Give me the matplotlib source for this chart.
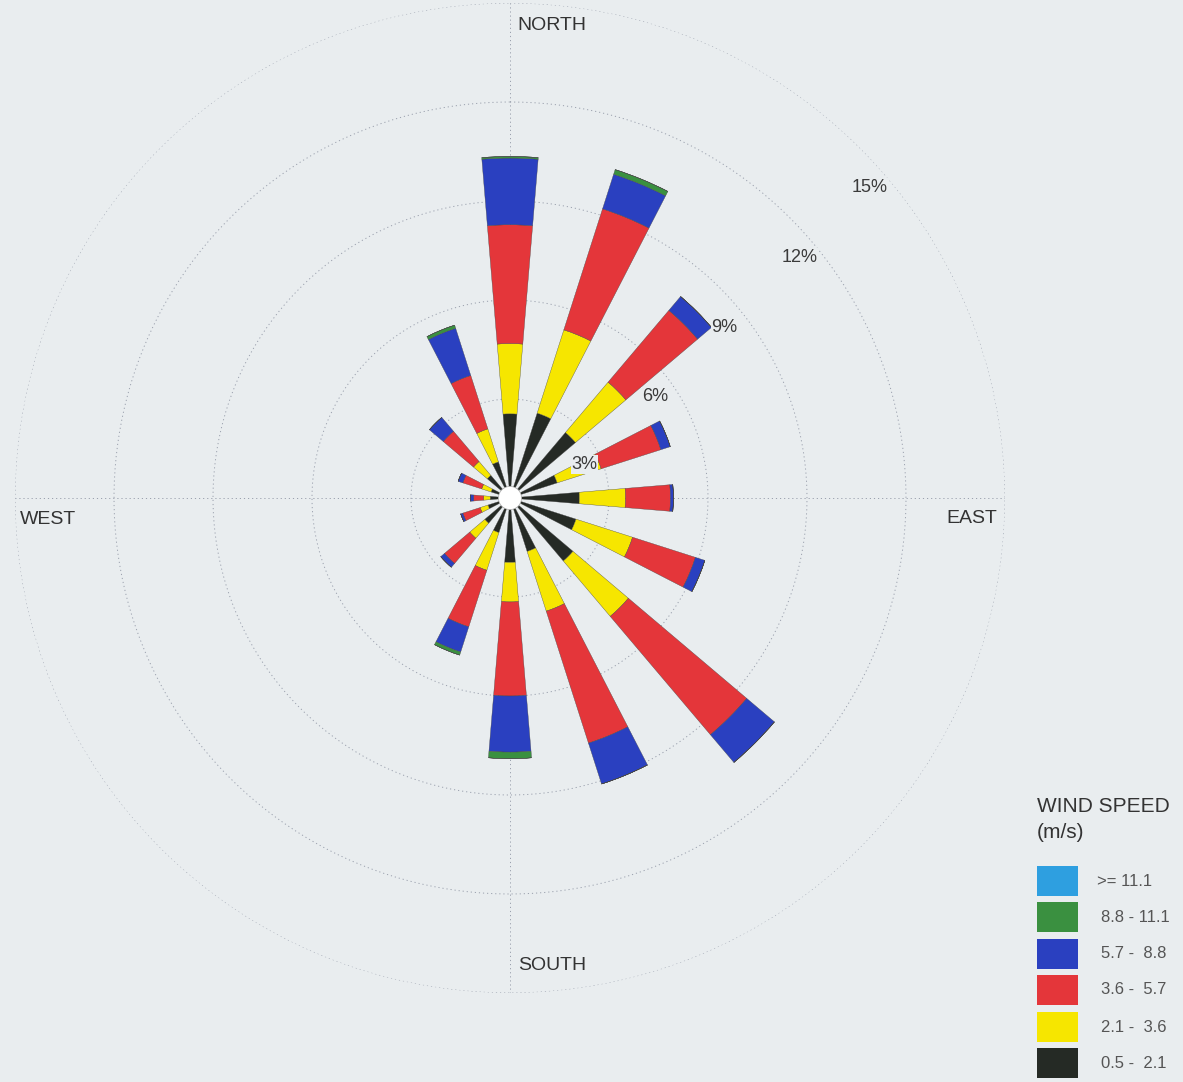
import numpy as np
import matplotlib.pyplot as plt
from matplotlib.patches import Rectangle, Circle

plt.rcParams['font.family'] = ['Liberation Sans', 'DejaVu Sans']

# wind directions (degrees from north, clockwise)
directions = ['N', 'NNE', 'NE', 'ENE', 'E', 'ESE', 'SE', 'SSE',
              'S', 'SSW', 'SW', 'WSW', 'W', 'WNW', 'NW', 'NNW']
dir_deg = [0, 22.5, 45, 67.5, 90, 112.5, 135, 157.5,
           180, 202.5, 225, 247.5, 270, 292.5, 315, 337.5]

# frequency (%) per speed class, per direction
spd_05_21 = [2.20, 2.35, 2.25, 1.15, 1.75, 1.75, 2.15, 1.35, 1.60, 0.75, 0.65, 0.35, 0.25, 0.25, 0.55, 0.80]
spd_21_36 = [2.13, 2.65, 2.00, 1.40, 1.40, 1.80, 2.20, 1.90, 1.20, 1.20, 0.60, 0.25, 0.20, 0.30, 0.55, 1.05]
spd_36_57 = [3.60, 3.85, 2.85, 1.90, 1.36, 2.00, 4.70, 4.20, 2.85, 1.80, 1.00, 0.55, 0.30, 0.60, 1.20, 1.70]
spd_57_88 = [2.02, 1.10, 0.55, 0.30, 0.09, 0.30, 1.10, 1.30, 1.70, 0.80, 0.15, 0.07, 0.10, 0.15, 0.55, 1.50]
spd_88_111 = [0.05, 0.15, 0.00, 0.00, 0.00, 0.00, 0.00, 0.00, 0.20, 0.10, 0.00, 0.00, 0.00, 0.00, 0.00, 0.10]
spd_111 = [0.0] * 16

calm_radius = 0.35

classes = [spd_05_21, spd_21_36, spd_36_57, spd_57_88, spd_88_111, spd_111]
class_labels = ['0.5 -  2.1', '2.1 -  3.6', '3.6 -  5.7', '5.7 -  8.8', '8.8 - 11.1', '>= 11.1']
colors = ['#252a25', '#f6e600', '#e4363a', '#2a40c0', '#3a9040', '#2e9fe0']

ring_vals = [3, 6, 9, 12, 15]
ring_labels = ['3%', '6%', '9%', '12%', '15%']

bg = '#e9edef'
W, H = 1183, 1082
fig = plt.figure(figsize=(W / 100, H / 100), dpi=100, facecolor=bg)

# polar axes: centre (510, 498) px, radius 495 px
cx, cy, R = 510, 498, 495
ax = fig.add_axes([(cx - R) / W, (H - cy - R) / H, 2 * R / W, 2 * R / H], projection='polar')
ax.set_facecolor(bg)
ax.set_theta_zero_location('N')
ax.set_theta_direction(-1)
ax.set_ylim(0, 15)

theta = np.deg2rad(dir_deg)
width = np.deg2rad(9.5)
bottom = np.full(16, calm_radius)
for vals, col in zip(classes, colors):
    ax.bar(theta, vals, width=width, bottom=bottom, color=col,
           edgecolor='#444444', linewidth=0.25, zorder=3)
    bottom = bottom + np.array(vals)

# calm circle
ax.add_artist(Circle((0, 0), calm_radius, transform=ax.transData._b,
                     facecolor='white', edgecolor='#aaaaaa', linewidth=0.5, zorder=4))

# grid: dotted rings and the 4 main axes
ax.grid(False)
ax.set_xticks([])
ax.set_yticks([])
tt = np.linspace(0, 2 * np.pi, 400)
for r in ring_vals:
    ax.plot(tt, np.full_like(tt, r), ls=(0, (1.2, 3)), color='#9aa0ad', lw=0.7, zorder=1)
for a in [0, 90, 180, 270]:
    ax.plot([np.deg2rad(a)] * 2, [0, 15], ls=(0, (1.2, 3)), color='#9aa0ad', lw=0.7, zorder=1)
ax.spines['polar'].set_visible(False)

# ring labels
lab_pos = [(66, 2.48), (55, 5.36), (51.5, 8.3), (50.3, 11.4), (49.2, 14.4)]
for (ang, rr), txt in zip(lab_pos, ring_labels):
    ax.text(np.deg2rad(ang), rr, txt, fontsize=13, color='#3a3a3a', ha='center', va='center',
            zorder=5, bbox=dict(facecolor=bg, edgecolor='none', pad=0.5))


def fx(px):
    return px / W


def fy(py):
    return 1 - py / H


# compass labels
fig.text(fx(517), fy(25), 'NORTH', fontsize=14, color='#333333', ha='left', va='center')
fig.text(fx(518), fy(966), 'SOUTH', fontsize=14, color='#333333', ha='left', va='center')
fig.text(fx(20), fy(519), 'WEST', fontsize=14, color='#333333', ha='left', va='center')
fig.text(fx(997), fy(518), 'EAST', fontsize=14, color='#333333', ha='right', va='center')

# legend
fig.text(fx(1037), fy(807), 'WIND SPEED', fontsize=15, color='#333333', ha='left', va='center')
fig.text(fx(1037), fy(832), '(m/s)', fontsize=15, color='#333333', ha='left', va='center')
patch_top = [866, 902, 939, 975, 1012, 1048]
for i, (lab, col) in enumerate(zip(class_labels[::-1], colors[::-1])):
    y0 = patch_top[i]
    fig.add_artist(Rectangle((fx(1037), fy(y0 + 30)), 41 / W, 30 / H, transform=fig.transFigure,
                             facecolor=col, edgecolor='none'))
    xt = 1097 if lab.startswith('>') else 1101
    fig.text(fx(xt), fy(y0 + 15), lab, fontsize=12, color='#555555', ha='left', va='center')

fig.savefig('out.png', dpi=100, facecolor=bg)
